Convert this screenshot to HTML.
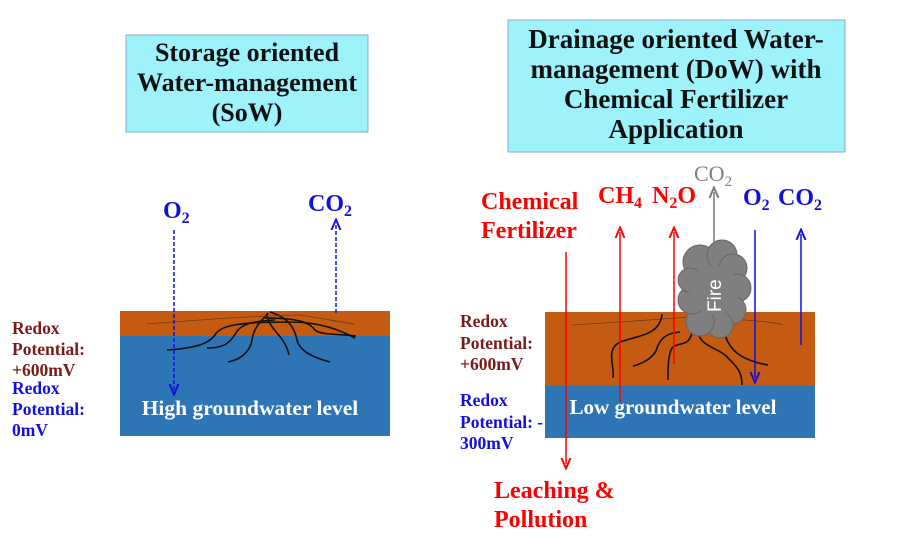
<!DOCTYPE html>
<html><head><meta charset="utf-8"><style>
body{margin:0;background:#fff}
svg{display:block}
text{font-family:"Liberation Serif",serif;font-weight:bold}
</style></head><body>
<svg width="900" height="544" viewBox="0 0 900 544" xmlns="http://www.w3.org/2000/svg">
<defs>
<marker id="ab" markerWidth="8" markerHeight="8" refX="4" refY="4" orient="auto"><path d="M0,1 L7,4 L0,7" fill="none" stroke="#1010e0" stroke-width="1.3"/></marker>
<marker id="ar" markerWidth="8" markerHeight="8" refX="4" refY="4" orient="auto"><path d="M0,1 L7,4 L0,7" fill="none" stroke="#f00" stroke-width="1.3"/></marker>
<marker id="ag" markerWidth="8" markerHeight="8" refX="4" refY="4" orient="auto"><path d="M0,1 L7,4 L0,7" fill="none" stroke="#777" stroke-width="1.3"/></marker>
</defs>
<rect x="126" y="35" width="242" height="97" fill="#9ef2fa" stroke="#8ac" stroke-width="1"/>
<g font-size="26" text-anchor="middle" fill="#111">
<text x="247" y="61">Storage oriented</text>
<text x="247" y="91">Water-management</text>
<text x="247" y="121">(SoW)</text>
</g>
<rect x="508" y="20" width="337" height="132" fill="#9ef2fa" stroke="#8ac" stroke-width="1"/>
<g font-size="27" text-anchor="middle" fill="#111">
<text x="676" y="48">Drainage oriented Water-</text>
<text x="676" y="78">management (DoW) with</text>
<text x="676" y="108">Chemical Fertilizer</text>
<text x="676" y="138">Application</text>
</g>
<rect x="120" y="311" width="270" height="25" fill="#c55a11"/>
<rect x="120" y="336" width="270" height="100" fill="#2e75b6"/>
<g fill="none" stroke="#111" stroke-width="1.6">
<path d="M167,350 C200,348 210,342 215,335 C220,325 240,322 290,322 C320,322 340,330 355,338"/>
<path d="M207,348 C230,348 232,338 238,330 C245,322 260,321 275,320"/>
<path d="M228,362 C240,360 250,352 252,340 C254,325 265,318 268,313"/>
<path d="M267,313 C268,330 285,335 289,355"/>
<path d="M270,312 C290,318 295,330 297,340 C300,352 315,358 330,362"/>
<path d="M265,318 C300,318 310,323 315,330 C320,335 340,334 356,336"/>
</g>
<path d="M147,324 C200,320 250,316 300,315 C320,318 340,322 355,324" fill="none" stroke="#6b3a1a" stroke-width="0.8"/>
<text x="250" y="415" font-size="21.5" fill="#fff" text-anchor="middle">High groundwater level</text>
<line x1="174" y1="230" x2="174" y2="390" stroke="#1010e0" stroke-width="1.5" stroke-dasharray="4,2" marker-end="url(#ab)"/>
<line x1="336" y1="313" x2="336" y2="224" stroke="#1010e0" stroke-width="1.5" stroke-dasharray="4,2" marker-end="url(#ab)"/>
<text x="163" y="218" font-size="24" fill="#1010e0">O<tspan font-size="16" dy="5">2</tspan></text>
<text x="308" y="211" font-size="24" fill="#1010e0">CO<tspan font-size="16" dy="5">2</tspan></text>
<g font-size="17.5">
<text x="12" y="334" fill="#7b1a1a">Redox</text>
<text x="12" y="355" fill="#7b1a1a">Potential:</text>
<text x="12" y="376" fill="#7b1a1a">+600mV</text>
<text x="12" y="394" fill="#1010e0">Redox</text>
<text x="12" y="415" fill="#1010e0">Potential:</text>
<text x="12" y="436" fill="#1010e0">0mV</text>
</g>
<rect x="545" y="312" width="270" height="74" fill="#c55a11"/>
<rect x="545" y="386" width="270" height="52" fill="#2e75b6"/>
<path d="M572,325 C620,322 680,318 700,316 C740,320 780,322 782,325" fill="none" stroke="#6b3a1a" stroke-width="0.8"/>
<g fill="none" stroke="#111" stroke-width="1.6">
<path d="M662,314 C660,335 640,335 620,342 C605,350 615,365 613,378"/>
<path d="M680,332 C665,333 660,340 657,348 C655,356 645,363 633,366"/>
<path d="M693,327 C690,350 680,340 672,348 C668,355 668,368 668,380"/>
<path d="M698,330 C698,345 715,347 725,355 C735,365 742,370 742,385"/>
<path d="M725,335 C730,350 740,360 768,365"/>
</g>
<text x="673" y="414" font-size="21" fill="#fff" text-anchor="middle">Low groundwater level</text>
<g font-size="17.5">
<text x="460" y="327" fill="#7b1a1a">Redox</text>
<text x="460" y="349" fill="#7b1a1a">Potential:</text>
<text x="460" y="370" fill="#7b1a1a">+600mV</text>
<text x="460" y="406" fill="#1010e0">Redox</text>
<text x="460" y="428" fill="#1010e0">Potential: -</text>
<text x="460" y="449" fill="#1010e0">300mV</text>
</g>
<g fill="#7f7f7f" stroke="#666" stroke-width="1">
<circle cx="700" cy="262" r="17"/><circle cx="722" cy="255" r="15"/><circle cx="733" cy="268" r="14"/>
<circle cx="737" cy="288" r="14"/><circle cx="732" cy="310" r="14"/><circle cx="720" cy="325" r="13"/>
<circle cx="700" cy="322" r="14"/><circle cx="692" cy="300" r="14"/><circle cx="690" cy="280" r="12"/>
<circle cx="714" cy="290" r="25" stroke="none"/>
</g>
<text transform="translate(721,312) rotate(-90)" font-size="19" fill="#fff" style="font-family:'Liberation Sans',sans-serif;font-weight:normal">Fire</text>
<line x1="566" y1="252" x2="566" y2="464" stroke="#f00" stroke-width="1.5" marker-end="url(#ar)"/>
<line x1="620" y1="402" x2="620" y2="232" stroke="#f00" stroke-width="1.5" marker-end="url(#ar)"/>
<line x1="674" y1="364" x2="674" y2="232" stroke="#f00" stroke-width="1.5" marker-end="url(#ar)"/>
<line x1="714" y1="244" x2="714" y2="192" stroke="#777" stroke-width="1.5" marker-end="url(#ag)"/>
<line x1="755" y1="230" x2="755" y2="378" stroke="#1010e0" stroke-width="1.5" marker-end="url(#ab)"/>
<line x1="801" y1="345" x2="801" y2="234" stroke="#1010e0" stroke-width="1.5" marker-end="url(#ab)"/>
<g font-size="24" fill="#f00">
<text x="481" y="209">Chemical</text>
<text x="481" y="238">Fertilizer</text>
<text x="494" y="498">Leaching &amp;</text>
<text x="494" y="527">Pollution</text>
<text x="598" y="203">CH<tspan font-size="16" dy="5">4</tspan></text>
<text x="652" y="203">N<tspan font-size="16" dy="5">2</tspan><tspan dy="-5">O</tspan></text>
</g>
<text x="694" y="181" font-size="22" fill="#7f7f7f" style="font-weight:normal">CO<tspan font-size="15" dy="5">2</tspan></text>
<text x="743" y="205" font-size="24" fill="#1010e0">O<tspan font-size="16" dy="5">2</tspan></text>
<text x="778" y="205" font-size="24" fill="#1010e0">CO<tspan font-size="16" dy="5">2</tspan></text>
</svg>
</body></html>
